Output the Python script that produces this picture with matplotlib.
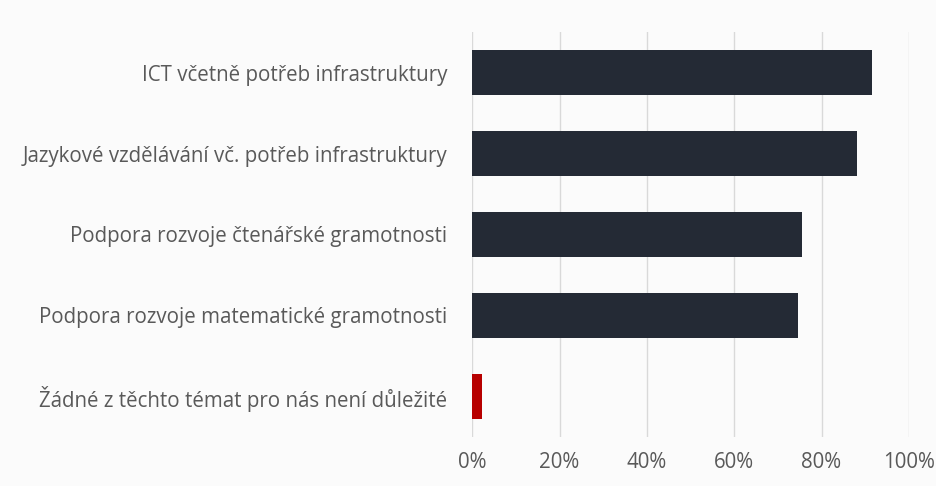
import numpy as np
import matplotlib.pyplot as plt
from matplotlib.ticker import PercentFormatter

# categories top to bottom
categories = [
    "ICT včetně potřeb infrastruktury",
    "Jazykové vzdělávání vč. potřeb infrastruktury",
    "Podpora rozvoje čtenářské gramotnosti",
    "Podpora rozvoje matematické gramotnosti",
    "Žádné z těchto témat pro nás není důležité",
]
shares = [91.5, 88.2, 75.5, 74.6, 2.2]
bar_colors = ["#242a35", "#242a35", "#242a35", "#242a35", "#b70000"]
x_ticks = [0, 20, 40, 60, 80, 100]

plt.rcParams['font.family'] = ['Open Sans', 'DejaVu Sans']

fig = plt.figure(figsize=(9.37, 4.86), dpi=100, facecolor='#fbfbfb')
ax = fig.add_axes([0.504, 0.101, 0.466, 0.833])
ax.set_facecolor('#fbfbfb')

y = np.arange(len(categories))
ax.barh(y, shares, height=0.56, color=bar_colors, zorder=3)

ax.set_xlim(0, 100)
ax.set_ylim(len(categories) - 0.5, -0.5)
ax.set_xticks(x_ticks)
ax.xaxis.set_major_formatter(PercentFormatter(decimals=0))
ax.set_yticks(y)
ax.set_yticklabels(categories)

ax.grid(axis='x', color='#d9d9d9', linewidth=1, zorder=0)
for s in ax.spines.values():
    s.set_visible(False)
ax.tick_params(axis='both', length=0, colors='#595959', labelsize=14.8)
ax.tick_params(axis='y', pad=18)
ax.tick_params(axis='x', pad=11)

fig.savefig('out.png', dpi=100, facecolor=fig.get_facecolor())
